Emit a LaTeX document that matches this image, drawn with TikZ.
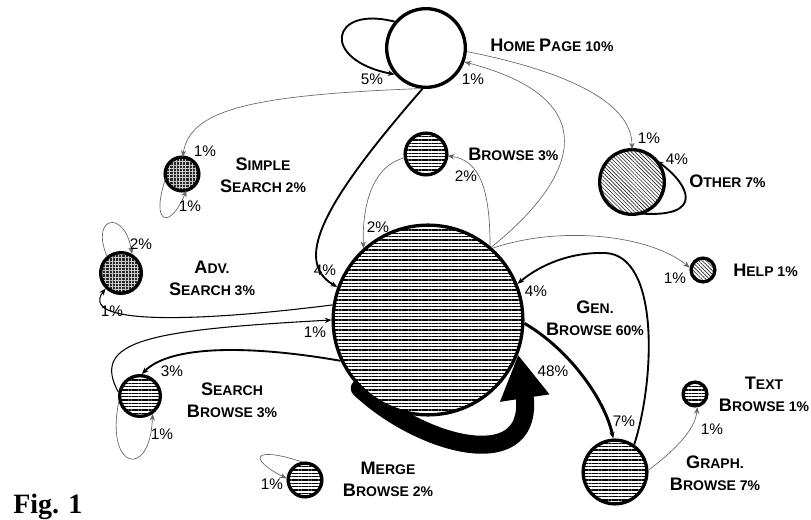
\documentclass[tikz,border=0pt]{standalone}
\usepackage{fontspec}
\setmainfont{Liberation Sans}
\newfontfamily\figfont{Liberation Serif}
\usetikzlibrary{arrows.meta, patterns.meta, backgrounds}
\newcommand{\bc}[1]{{\fontsize{13.6}{16.5}\selectfont #1}}

\begin{document}
\begin{tikzpicture}[
    x=0.75pt, y=-0.75pt,
    >={Stealth[length=5pt,width=4pt]},
    pnode/.style={circle, draw=black, line width=2.5pt, inner sep=0pt, minimum size=#1},
    hlines/.style={preaction={fill=white}, pattern={Lines[angle=0,distance=2.5pt,line width=1.2pt]}},
    dlines/.style={preaction={fill=white}, pattern={Lines[angle=-45,distance=2pt,line width=0.45pt]}, pattern color=black!85},
    dgrid/.style={preaction={fill=black!85}, pattern={Hatch[angle=0,distance=2.4pt,line width=0.2pt]}, pattern color=white!80!black},
    thinarr/.style={->, draw=black!60, line width=0.5pt},
    darkarr/.style={->, line width=0.8pt},
    medarr/.style={->, line width=1.4pt},
    thickarr/.style={->, line width=2.2pt},
    pct/.style={font=\fontsize{11.5}{13}\selectfont, inner sep=0pt},
    lbl/.style={font=\fontsize{10.5}{16.5}\selectfont\bfseries, align=center, inner sep=0pt}
]
\useasboundingbox (0,0) rectangle (811,520);

\node[pnode=59pt, fill=white] (home) at (426,48) {};
\node[pnode=25.3pt, dgrid] (simple) at (182,174) {};
\node[pnode=31.3pt, hlines] (browse) at (426,154) {};
\node[pnode=48.5pt, dlines] (other) at (632,182) {};
\node[pnode=30.5pt, dgrid] (adv) at (121,273) {};
\node[pnode=142.3pt, hlines] (gen) at (428,320) {};
\node[pnode=17.8pt, dlines] (help) at (703,270) {};
\node[pnode=30.5pt, hlines] (sbrowse) at (140,396) {};
\node[pnode=25.3pt, hlines] (merge) at (305,480) {};
\node[pnode=47.8pt, hlines] (graph) at (615,472) {};
\node[pnode=17.8pt, hlines] (tbrowse) at (695,394) {};

\node[lbl, anchor=west] (homelbl) at (490,45) {\bc{H}OME \bc{P}AGE 10\%};
\node[lbl] (simplelbl) at (263,175) {\bc{S}IMPLE\\\bc{S}EARCH 2\%};
\node[lbl, anchor=west] (browselbl) at (468,154) {\bc{B}ROWSE 3\%};
\node[lbl, anchor=west] (otherlbl) at (689,181) {\bc{O}THER 7\%};
\node[lbl] (advlbl) at (212,278) {\bc{A}DV.\\\bc{S}EARCH 3\%};
\node[lbl, anchor=west] (helplbl) at (733,270) {\bc{H}ELP 1\%};
\node[lbl] (genlbl) at (595,318) {\bc{G}EN.\\\bc{B}ROWSE 60\%};
\node[lbl] (sbrowselbl) at (232,400) {\bc{S}EARCH\\\bc{B}ROWSE 3\%};
\node[lbl] (mergelbl) at (388,479) {\bc{M}ERGE\\\bc{B}ROWSE 2\%};
\node[lbl] (tbrowselbl) at (764,394) {\bc{T}EXT\\\bc{B}ROWSE 1\%};
\node[lbl] (graphlbl) at (715,473) {\bc{G}RAPH.\\\bc{B}ROWSE 7\%};
\node[anchor=base west, inner sep=0pt, font=\figfont\fontsize{21}{24}\selectfont\bfseries] (figlbl) at (13,513) {Fig. 1};

\begin{scope}[on background layer]
\draw[line width=13.5pt, line cap=round, -{Triangle[length=33pt,width=35pt]}] (gen.225) .. controls (420,445) and (530,475) .. (525,400) -- (gen.-21);
\end{scope}

\draw[medarr] (home.140) .. controls (330,5) and (320,60) .. (home.220);
\draw[medarr] (home.265) .. controls (330,195) and (290,260) .. (gen.160);
\draw[thinarr] (home.262) .. controls (250,95) and (190,110) .. (simple.88);
\draw[thinarr] (home.-5) .. controls (560,70) and (632,100) .. (other.90);
\draw[thinarr] (gen.49) .. controls (575,180) and (610,100) .. (home.-20);
\draw[thinarr] (browse.190) .. controls (375,165) and (362,200) .. (gen.132);
\draw[thinarr] (gen.50) .. controls (490,190) and (480,160) .. (browse.-5);
\draw[thinarr] (gen.48) .. controls (560,225) and (650,235) .. (help.170);
\draw[medarr] (graph.55) .. controls (655,380) and (660,255) .. (605,253) .. controls (570,252) and (540,265) .. (gen.22);
\draw[thickarr] (gen.-2) .. controls (570,350) and (605,400) .. (graph.93);
\draw[thinarr] (graph.3) .. controls (675,450) and (695,430) .. (tbrowse.-80);
\draw[darkarr] (gen.171) .. controls (230,318) and (75,330) .. (adv.225);
\draw[darkarr] (sbrowse.170) .. controls (90,340) and (150,330) .. (gen.180);
\draw[medarr] (gen.205) .. controls (250,345) and (170,345) .. (sbrowse.85);
\draw[thinarr] (sbrowse.195) .. controls (105,470) and (150,480) .. (sbrowse.-55);
\draw[thinarr] (merge.100) .. controls (250,445) and (250,460) .. (merge.175);
\draw[thinarr] (adv.130) .. controls (90,215) and (125,210) .. (adv.60);
\draw[thinarr] (simple.195) .. controls (150,225) and (170,230) .. (simple.-75);
\draw[medarr] (other.-75) .. controls (705,218) and (690,185) .. (other.40);

\node[pct] (p1) at (372,79) {5\%};
\node[pct] (p2) at (473,79) {1\%};
\node[pct] (p3) at (325,270) {4\%};
\node[pct] (p4) at (205,151) {1\%};
\node[pct] (p5) at (190,206) {1\%};
\node[pct] (p6) at (378,227) {2\%};
\node[pct] (p7) at (466,176) {2\%};
\node[pct] (p8) at (649,138) {1\%};
\node[pct] (p9) at (677,159) {4\%};
\node[pct] (p10) at (141,244) {2\%};
\node[pct] (p11) at (112,311) {1\%};
\node[pct] (p12) at (315,332) {1\%};
\node[pct] (p13) at (536,291) {4\%};
\node[pct] (p14) at (675,278) {1\%};
\node[pct] (p15) at (172,371) {3\%};
\node[pct] (p16) at (162,434) {1\%};
\node[pct] (p17) at (272,484) {1\%};
\node[pct] (p18) at (553,371) {48\%};
\node[pct] (p19) at (624,421) {7\%};
\node[pct] (p20) at (712,429) {1\%};
\end{tikzpicture}
\end{document}
